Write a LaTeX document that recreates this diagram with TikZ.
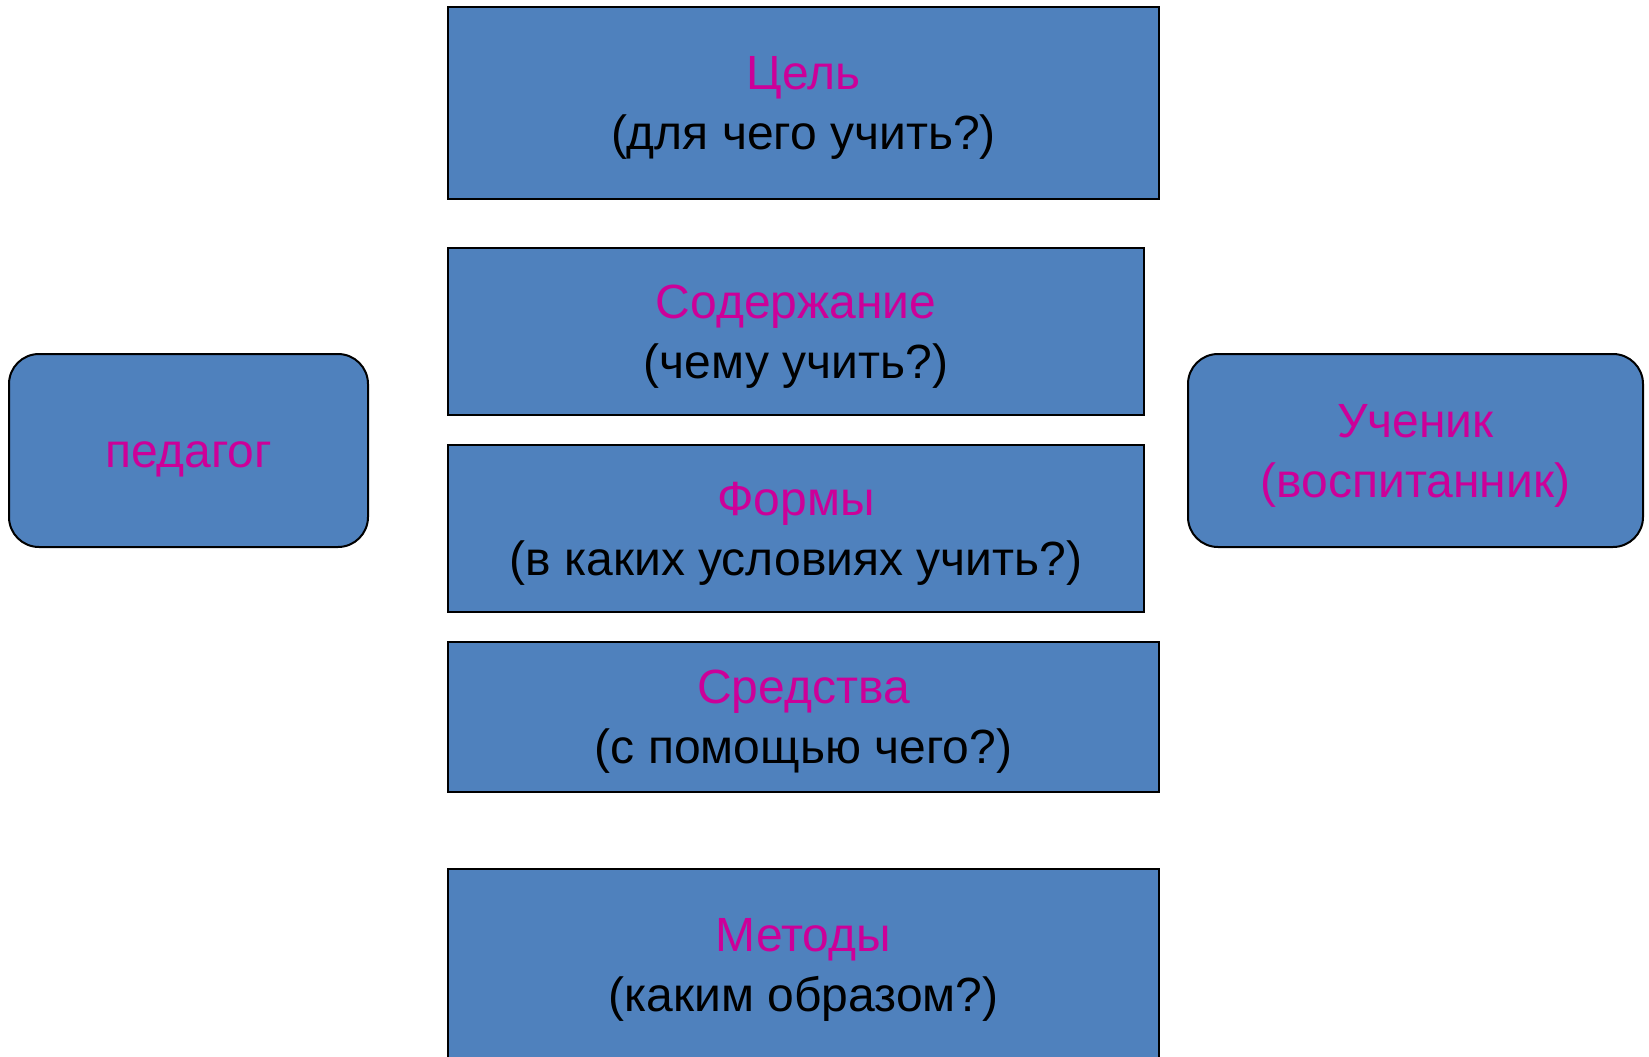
\documentclass[tikz,border=0pt]{standalone}
\usepackage{fontspec}
\setmainfont{Liberation Sans}
\definecolor{boxblue}{HTML}{4F81BD}
\definecolor{hlpink}{HTML}{CC0099}
\newcommand{\ppstrut}{\rule[-0.22em]{0pt}{1.14em}}
\begin{document}
\begin{tikzpicture}[x=1pt,y=-1pt,
  box/.style={draw=black, line width=2pt, fill=boxblue, inner sep=0pt, align=center,
    font=\fontsize{48}{60}\selectfont},
  rbox/.style={box, rounded corners=30pt},
  hl/.style={text=hlpink}]
\useasboundingbox (0,0) rectangle (1649,1057);
\node[box, minimum width=711pt, minimum height=192pt] (goal) at (803.5,103)
  {\ppstrut\textcolor{hlpink}{Цель}\\(для чего учить?)\ppstrut};
\node[box, minimum width=696pt, minimum height=167pt] (content) at (796,331.5)
  {\ppstrut\textcolor{hlpink}{Содержание}\\(чему учить?)\ppstrut};
\node[box, minimum width=696pt, minimum height=167pt] (forms) at (796,528.5)
  {\ppstrut\textcolor{hlpink}{Формы}\\(в каких условиях учить?)\ppstrut};
\node[box, minimum width=711pt, minimum height=150pt] (means) at (803.5,717)
  {\ppstrut\textcolor{hlpink}{Средства}\\(с помощью чего?)\ppstrut};
\node[box, minimum width=711pt, minimum height=192pt] (methods) at (803.5,965)
  {\ppstrut\textcolor{hlpink}{Методы}\\(каким образом?)\ppstrut};
\node[rbox, hl, minimum width=359pt, minimum height=193pt] (teacher) at (188.5,450.5)
  {\ppstrut педагог};
\node[rbox, hl, minimum width=455pt, minimum height=193pt] (pupil) at (1415.5,450.5)
  {\ppstrut Ученик\\(воспитанник)\ppstrut};
\end{tikzpicture}
\end{document}
